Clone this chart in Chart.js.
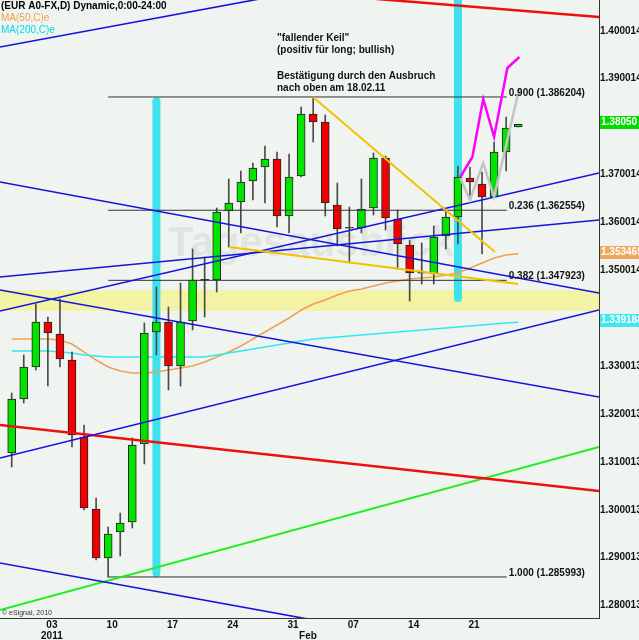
<!DOCTYPE html>
<html><head><meta charset="utf-8">
<script src="https://cdn.jsdelivr.net/npm/chart.js@4.4.1/dist/chart.umd.min.js"></script>
<style>html,body{margin:0;padding:0;background:#f0f4f0;overflow:hidden}canvas{display:block}</style>
</head><body><canvas id="c" width="639" height="640"></canvas>
<script>
// ---------- data ----------
const dates = ['2010-12-29','2010-12-30','2010-12-31',
 '2011-01-03','2011-01-04','2011-01-05','2011-01-06','2011-01-07',
 '2011-01-10','2011-01-11','2011-01-12','2011-01-13','2011-01-14',
 '2011-01-17','2011-01-18','2011-01-19','2011-01-20','2011-01-21',
 '2011-01-24','2011-01-25','2011-01-26','2011-01-27','2011-01-28',
 '2011-01-31','2011-02-01','2011-02-02','2011-02-03','2011-02-04',
 '2011-02-07','2011-02-08','2011-02-09','2011-02-10','2011-02-11',
 '2011-02-14','2011-02-15','2011-02-16','2011-02-17','2011-02-18',
 '2011-02-21','2011-02-22','2011-02-23','2011-02-24','2011-02-25'];
const open  = [1.31188,1.32315,1.32983,1.33923,1.33672,1.33129,1.31522,1.30019,1.28996,1.29538,1.29747,1.31376,1.33714,1.33923,1.33004,1.33944,1.34799,1.34799,1.36240,1.36428,1.36866,1.37159,1.37326,1.36136,1.36971,1.38265,1.38098,1.36365,1.35885,1.35885,1.36303,1.37346,1.36073,1.35530,1.34946,1.34925,1.35718,1.36115,1.36929,1.36804,1.36532,1.37472,1.37994];
const high  = [1.32440,1.33234,1.34298,1.34027,1.34403,1.33296,1.31772,1.30248,1.29643,1.29935,1.31501,1.33902,1.34653,1.34236,1.34737,1.35447,1.35280,1.36303,1.36908,1.37075,1.37242,1.37597,1.37472,1.37430,1.38411,1.38620,1.38244,1.36824,1.36323,1.36908,1.37451,1.37388,1.36261,1.35634,1.35572,1.35927,1.36240,1.37179,1.37159,1.37054,1.37680,1.38202,1.38050];
const low   = [1.30895,1.32232,1.32921,1.32586,1.32983,1.31313,1.29998,1.28954,1.28599,1.29038,1.29622,1.30958,1.33234,1.32503,1.32586,1.33756,1.34027,1.34549,1.35488,1.35781,1.36470,1.36407,1.35906,1.35781,1.36950,1.37680,1.36136,1.35509,1.35154,1.35781,1.36156,1.35843,1.35029,1.34361,1.34716,1.34716,1.35447,1.35551,1.36532,1.35342,1.36532,1.37075,1.37994];
const close = [1.32315,1.32983,1.33923,1.33693,1.33150,1.31564,1.30039,1.28996,1.29497,1.29726,1.31355,1.33693,1.33923,1.33004,1.33923,1.34799,1.34810,1.36219,1.36407,1.36845,1.37138,1.37326,1.36136,1.36950,1.38265,1.38098,1.36407,1.35864,1.35895,1.36282,1.37346,1.36094,1.35551,1.34946,1.34956,1.35697,1.36115,1.36950,1.36845,1.36532,1.37472,1.37973,1.38050];
const ma50  = [1.33568,1.33568,1.33568,1.33568,1.33547,1.33463,1.33296,1.33129,1.32983,1.32900,1.32858,1.32858,1.32879,1.32921,1.32962,1.33004,1.33088,1.33192,1.33296,1.33421,1.33568,1.33714,1.33860,1.34006,1.34173,1.34298,1.34382,1.34486,1.34570,1.34611,1.34674,1.34737,1.34779,1.34820,1.34841,1.34862,1.34904,1.34946,1.35050,1.35154,1.35259,1.35322,1.353465];
const ma200 = [1.33317,1.33317,1.33317,1.33317,1.33296,1.33275,1.33234,1.33213,1.33192,1.33192,1.33192,1.33192,1.33192,1.33192,1.33192,1.33192,1.33192,1.33234,1.33275,1.33317,1.33359,1.33401,1.33442,1.33484,1.33526,1.33568,1.33589,1.33610,1.33630,1.33651,1.33672,1.33693,1.33714,1.33735,1.33756,1.33776,1.33797,1.33818,1.33839,1.33860,1.33881,1.33902,1.339188];

// axis ticks
const yTickValues = [1.400014,1.390014,1.370014,1.360014,1.350014,1.330013,1.320013,1.310013,1.300013,1.290013,1.280013];
const xTickIndex = [3, 8, 13, 18, 23, 24, 28, 33, 38];
const xTickText  = [['03','2011'], '10', '17', '24', '31', ['', '  Feb'], '07', '14', '21'];

// fibonacci levels
const fibNames  = ['0.900', '0.236', '0.382', '1.000'];
const fibPrices = [1.386204, 1.362554, 1.347923, 1.285993];
const fibSpan   = [8, 41.05];

// support zone
const zoneLow = 1.34152, zoneHigh = 1.34591;

// drawn lines, [index, price]
const blueLines = [
  [[-0.97,1.39664],[22.33,1.40749]],
  [[-0.97,1.34862],[48.70,1.36052]],
  [[-0.97,1.36845],[48.70,1.34528]],
  [[-0.97,1.34152],[48.70,1.37033]],
  [[-0.97,1.34591],[48.70,1.32357]],
  [[-0.97,1.31083],[48.70,1.34173]],
  [[-0.97,1.28891],[26.39,1.27639]]
];
const redLines = [
  [[29.70,1.40678],[48.70,1.40290]],
  [[-0.97,1.31772],[48.70,1.30394]]
];
const greenLine = [[-0.97,1.27910],[48.70,1.31313]];
const wedgeUpper = [[24.98,1.38620],[40.07,1.35384]];
const wedgeLower = [[18.02,1.35488],[41.98,1.34716]];
const magentaPath = [[37.2,1.36950],[38.2,1.37367],[39.1,1.38578],[40.0,1.37785],[41.1,1.39225],[42.1,1.39455]];
const grayPath = [[37.2,1.36929],[38.0,1.36470],[39.1,1.37242],[40.0,1.36532],[42.1,1.38808]];
const markerBars = [[[12,1.28682],[12,1.38537]], [[37,1.34424],[37,1.4100]]];

// ---------- chart ----------
const X_MIN = -0.97, X_MAX = 48.70, Y_MIN = 1.27743, Y_MAX = 1.40645;
const FONT = '"Liberation Sans", Arial, sans-serif';

function seg(points, color, width, order, extra) {
  return Object.assign({type:'line', data: points.map(p => ({x:p[0], y:p[1]})), borderColor: color,
    borderWidth: width, pointRadius: 0, pointHoverRadius: 0, fill: false, tension: 0, order: order}, extra || {});
}

const bodyLo = [], bodyHi = [], bodyColor = [];
for (let i = 0; i < dates.length; i++) {
  let lo = Math.min(open[i], close[i]), hi = Math.max(open[i], close[i]);
  const doji = hi - lo < 0.00015;
  if (doji) { const m = (hi + lo) / 2; lo = m - 0.0001; hi = m + 0.0001; }
  bodyLo.push(lo); bodyHi.push(hi);
  bodyColor.push(doji ? '#222' : (close[i] >= open[i] ? '#00e400' : '#f00000'));
}

const datasets = [
  seg([[X_MIN, zoneHigh],[X_MAX, zoneHigh]], 'rgba(0,0,0,0)', 0, 100, {fill:'+1', backgroundColor:'#f3f3a6'}),
  seg([[X_MIN, zoneLow],[X_MAX, zoneLow]], 'rgba(0,0,0,0)', 0, 100),
  ...markerBars.map(b => seg(b, '#3ee2ee', 8, 90, {borderCapStyle:'round'})),
  seg(ma200.map((v,i)=>[i,v]), '#30e8f0', 1.5, 60),
  seg(ma50.map((v,i)=>[i,v]), '#f0a050', 1.5, 60),
  {type:'bar', data: dates.map((d,i)=>({x:i, y:[low[i], high[i]]})), backgroundColor:'#4a4a4a',
   barThickness:1, grouped:false, order:50},
  {type:'bar', data: dates.map((d,i)=>({x:i, y:[bodyLo[i], bodyHi[i]]})), backgroundColor: bodyColor,
   borderColor:'#222', borderWidth:1, borderSkipped:false, barThickness:8, grouped:false, order:40},
  ...fibPrices.map(p => seg([[fibSpan[0], p],[fibSpan[1], p]], '#333', 1, 25)),
  ...blueLines.map(l => seg(l, '#1414dc', 1.6, 20)),
  ...redLines.map(l => seg(l, '#ee1010', 2.5, 20)),
  seg(greenLine, '#22ee22', 2, 20),
  seg(wedgeUpper, '#f2c200', 2, 10),
  seg(wedgeLower, '#f2c200', 2, 10),
  seg(grayPath, '#c4c4c4', 2.5, 10),
  seg(magentaPath, '#ff00ff', 2.5, 10)
];

const overlay = {
  id: 'overlay',
  beforeDatasetsDraw(chart) {
    const {ctx, chartArea: a} = chart;
    ctx.save();
    ctx.beginPath(); ctx.rect(a.left, a.top, a.width, a.height); ctx.clip();
    ctx.font = 'bold 42px ' + FONT;
    ctx.fillStyle = 'rgba(0,0,0,0.06)';
    ctx.textBaseline = 'middle';
    ctx.fillText('Tagesausblick', 168, 244);
    ctx.restore();
  },
  afterDraw(chart) {
    const {ctx, chartArea: a, scales: {x, y}} = chart;
    ctx.save();
    ctx.textBaseline = 'middle';
    // header legend
    ctx.font = 'bold 10px ' + FONT; ctx.fillStyle = '#000';
    ctx.fillText('(EUR A0-FX,D) Dynamic,0:00-24:00', 1, 6);
    ctx.font = '10px ' + FONT;
    ctx.fillStyle = '#f0a050'; ctx.fillText('MA(50,C)e', 1, 18);
    ctx.fillStyle = '#00dcea'; ctx.fillText('MA(200,C)e', 1, 30);
    // annotation
    ctx.font = 'bold 10px ' + FONT; ctx.fillStyle = '#111';
    ctx.fillText('"fallender Keil"', 277, 38);
    ctx.fillText('(positiv für long; bullish)', 277, 50);
    ctx.fillText('Bestätigung durch den Ausbruch', 277, 76);
    ctx.fillText('nach oben am 18.02.11', 277, 88);
    // fib labels
    ctx.textBaseline = 'alphabetic';
    fibPrices.forEach((p, k) => {
      ctx.fillText(fibNames[k] + ' (' + p.toFixed(6) + ')', x.getPixelForValue(fibSpan[1]) + 2, y.getPixelForValue(p) - 1);
    });
    // copyright
    ctx.font = '7px ' + FONT; ctx.fillStyle = '#333';
    ctx.fillText('© eSignal, 2010', 2, 615);
    // price boxes on the axis
    const n = close.length - 1;
    const boxes = [[close[n], close[n].toFixed(5), '#00dc00'],
                   [ma50[n], ma50[n].toFixed(6), '#f0a860'],
                   [ma200[n], ma200[n].toFixed(6), '#40e6f0']];
    ctx.font = 'bold 10px ' + FONT; ctx.textBaseline = 'middle';
    boxes.forEach(([v, t, c]) => {
      const py = Math.round(y.getPixelForValue(v)) - 2;
      const w = ctx.measureText(t).width + 3;
      ctx.fillStyle = c; ctx.fillRect(a.right + 1, py - 6, w, 13);
      ctx.fillStyle = '#fff'; ctx.fillText(t, a.right + 2, py + 0.5);
    });
    ctx.restore();
  }
};

function noPad(s) { s.paddingTop = 0; s.paddingBottom = 0; s.paddingLeft = 0; s.paddingRight = 0; }

new Chart(document.getElementById('c'), {
  type: 'bar',
  data: {datasets},
  plugins: [overlay],
  options: {
    responsive: false, animation: false, devicePixelRatio: 1,
    layout: {padding: 0},
    events: [],
    plugins: {legend: {display: false}, tooltip: {enabled: false}},
    scales: {
      x: {type: 'linear', min: X_MIN, max: X_MAX, offset: false,
        grid: {display: false, drawTicks: false}, border: {display: true, color: '#333', width: 1},
        afterBuildTicks: s => { s.ticks = xTickIndex.map(v => ({value: v})); },
        afterFit: s => { s.height = 22; noPad(s); },
        ticks: {autoSkip: false, maxRotation: 0, padding: 1, labelOffset: 4, color: '#111',
          font: {family: FONT, size: 10, weight: 'bold', lineHeight: 1.15},
          callback: (v) => { const k = xTickIndex.indexOf(v); return k >= 0 ? xTickText[k] : ''; }}
      },
      y: {type: 'linear', position: 'right', min: Y_MIN, max: Y_MAX,
        grid: {display: false, drawTicks: false}, border: {display: true, color: '#333', width: 1},
        afterBuildTicks: s => { s.ticks = yTickValues.map(v => ({value: v})); },
        afterFit: s => { s.width = 40; noPad(s); },
        ticks: {autoSkip: false, padding: 1, color: '#111',
          font: {family: FONT, size: 10, weight: 'bold'},
          callback: v => Number(v).toFixed(6)}
      }
    }
  }
});
</script></body></html>
